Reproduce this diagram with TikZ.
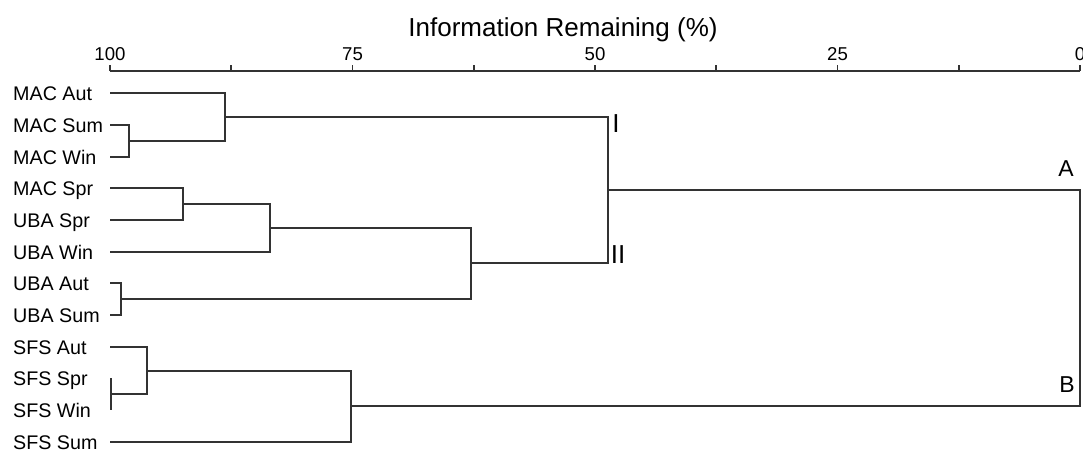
\documentclass[tikz,border=0pt]{standalone}
\usepackage{fontspec}
\setmainfont{Liberation Sans}
\usetikzlibrary{calc}
\begin{document}
\begin{tikzpicture}[x=1pt,y=-1pt,
  link/.style={draw=black!80, line width=1.7pt},
  leaf/.style={anchor=base west, inner sep=0pt, font=\fontsize{19.7}{22}\selectfont},
  ticklabel/.style={anchor=base, inner sep=0pt, font=\fontsize{18.6}{22}\selectfont},
  grouplabel/.style={anchor=base, inner sep=0pt, font=\fontsize{23}{25}\selectfont},
  subgrouplabel/.style={anchor=base, inner sep=0pt, font=\fontsize{26}{28}\selectfont}]
\useasboundingbox (0,0) rectangle (1083,452);

% axis
\node[anchor=base, inner sep=0pt, font=\fontsize{26}{28}\selectfont] (title) at (563,37) {Information Remaining (\%)};
\coordinate (axL) at (110,71);
\coordinate (axR) at (1080,71);
\draw[link] (axL) -- (axR);
\foreach \k in {0,...,8}{
  \draw[link] ($(axL)+(\k*121.25,0)$) -- ++(0,-6);
}
\foreach \v/\k in {100/0,75/2,50/4,25/6,0/8}{
  \node[ticklabel] (tl\k) at (110+\k*121.25,60.7) {\v};
}

% leaves: label baseline sits half a cap height below the branch
\foreach \name/\txt/\y in {
  ma/MAC Aut/93, ms/MAC Sum/125, mw/MAC Win/157, mp/MAC Spr/188,
  up/UBA Spr/220, uw/UBA Win/252, ua/UBA Aut/283, us/UBA Sum/315,
  sa/SFS Aut/347, sp/SFS Spr/378, sw/SFS Win/410, ss/SFS Sum/442}{
  \node[leaf] (t\name) at (13,\y+7) {\txt};
  \coordinate (\name) at (110,\y);
}

% merge points
\coordinate (m1) at (129,141);
\coordinate (m2) at (225,117);
\coordinate (m3) at (183,204);
\coordinate (m4) at (270,228);
\coordinate (m5) at (121,299);
\coordinate (m6) at (471,263);
\coordinate (m7) at (608,190);
\coordinate (s1) at (111,394);
\coordinate (s2) at (147,371);
\coordinate (s3) at (351,406);
\coordinate (root) at (1080,298);

% tree
\draw[link] (ms) -| (m1) |- (mw);
\draw[link] (ma) -| (m2) |- (m1);
\draw[link] (mp) -| (m3) |- (up);
\draw[link] (m3) -| (m4) |- (uw);
\draw[link] (ua) -| (m5) |- (us);
\draw[link] (m4) -| (m6) |- (m5);
\draw[link] (m2) -| (m7) |- (m6);
\draw[link] (s1 |- sp) -- (s1 |- sw);
\draw[link] (sa) -| (s2) |- (s1);
\draw[link] (s2) -| (s3) |- (ss);
\draw[link] (m7) -| (root) |- (s3);

% group labels
\node[subgrouplabel] (gI) at (616,132) {I};
\node[subgrouplabel] (gII) at (618,263) {II};
\node[grouplabel] (gA) at (1066,176) {A};
\node[grouplabel] (gB) at (1067,392) {B};
\end{tikzpicture}
\end{document}
